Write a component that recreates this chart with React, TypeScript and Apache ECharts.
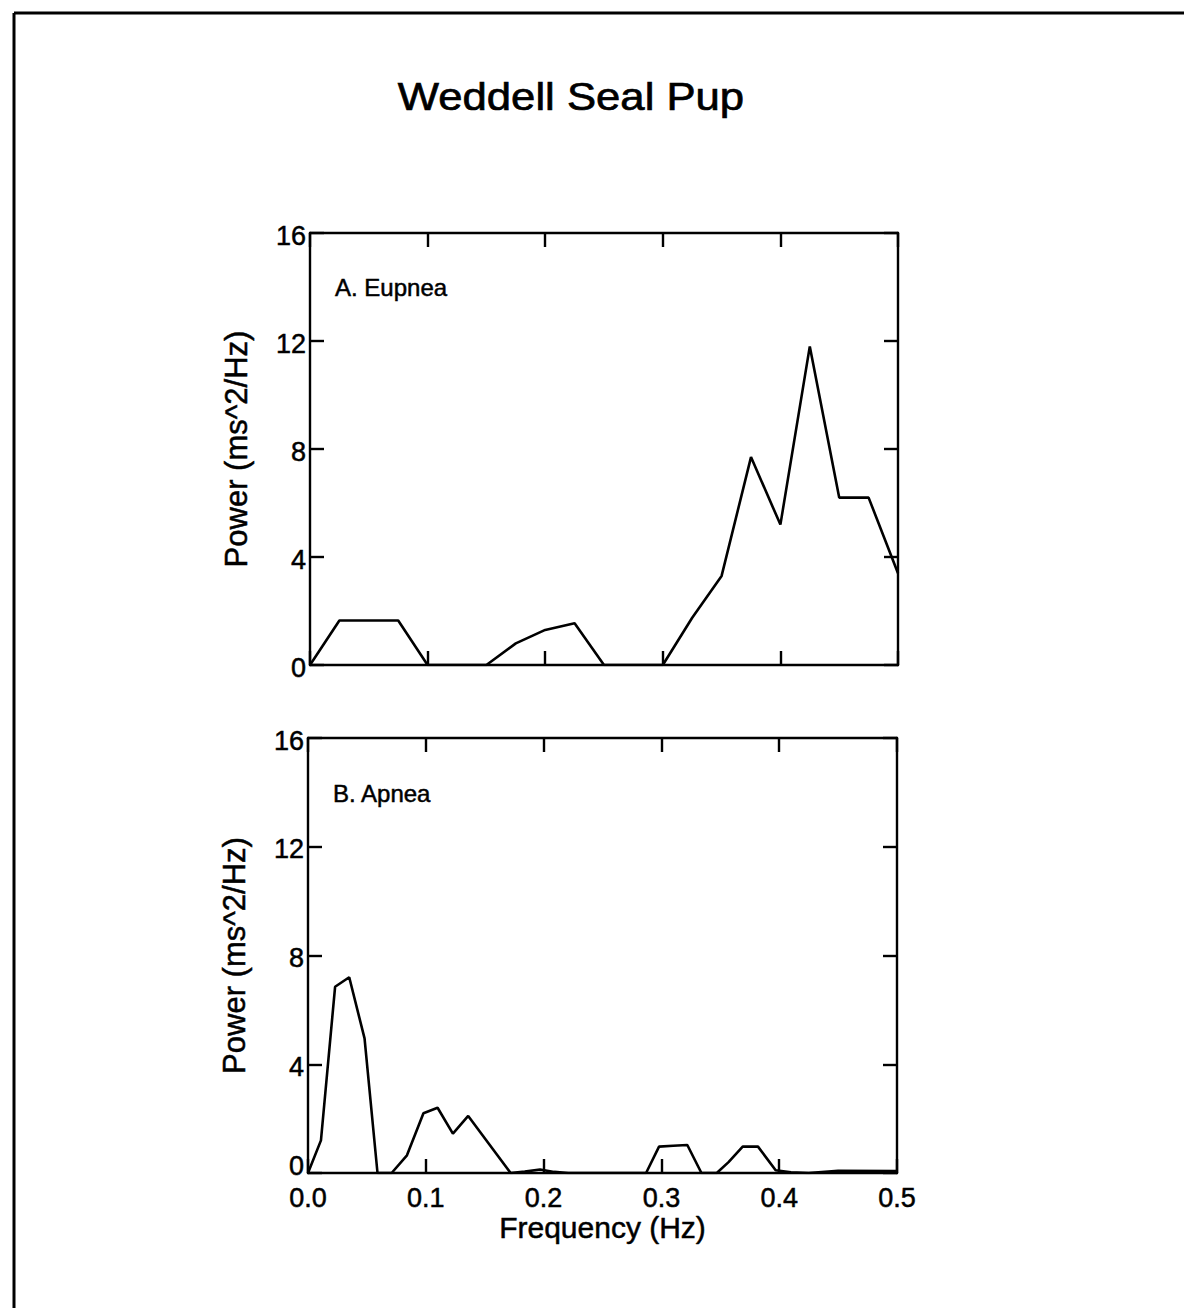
import React, { useEffect, useRef } from "react";
import * as echarts from "echarts";

// Power spectra of heart-rate variability, Weddell seal pup
const eupneaFreq = [0, 0.025, 0.05, 0.075, 0.1, 0.125, 0.15, 0.175, 0.2, 0.225, 0.25, 0.275, 0.3, 0.325, 0.35, 0.375, 0.4, 0.425, 0.45, 0.475, 0.5];
const eupneaPower = [0, 1.65, 1.65, 1.65, 0, 0, 0, 0.8, 1.3, 1.55, 0, 0, 0, 1.75, 3.3, 7.7, 5.2, 11.8, 6.2, 6.2, 3.4];

const apneaFreq = [0, 0.011, 0.023, 0.035, 0.048, 0.059, 0.071, 0.084, 0.098, 0.11, 0.123, 0.136, 0.148, 0.16, 0.172, 0.184, 0.197, 0.209, 0.221, 0.287, 0.298, 0.31, 0.322, 0.334, 0.347, 0.357, 0.369, 0.382, 0.397, 0.41, 0.425, 0.45, 0.5];
const apneaPower = [0, 1.2, 6.85, 7.2, 4.95, 0, 0, 0.65, 2.2, 2.4, 1.45, 2.1, 1.4, 0.7, 0, 0.05, 0.13, 0.04, 0, 0, 0.97, 1.0, 1.03, 0, 0, 0.4, 0.97, 0.97, 0.1, 0.03, 0, 0.08, 0.07];

const freqTicks = [0, 0.1, 0.2, 0.3, 0.4, 0.5];
const powerTicks = [0, 4, 8, 12, 16];

const FONT = "'Liberation Sans', Arial, Helvetica, sans-serif";
const INK = "#000";
// light outline to give the type a heavier, printed look
const heavy = { textBorderColor: INK, textBorderWidth: 0.5 };
const tickFont = { color: INK, fontSize: 27, fontFamily: FONT, ...heavy };

function pairs(xs: number[], ys: number[]) {
  return xs.map((x, i) => [x, ys[i]]);
}

function xAxes(gridIndex: number, showLabels: boolean) {
  const base = {
    type: "value",
    gridIndex,
    min: freqTicks[0],
    max: freqTicks[freqTicks.length - 1],
    interval: 0.1,
    splitLine: { show: false },
    axisLine: { show: true, onZero: false, lineStyle: { color: INK, width: 2.4 } },
    axisTick: { show: true, inside: true, length: 14, lineStyle: { color: INK, width: 2.4 } },
  };
  return [
    {
      ...base,
      position: "bottom",
      name: showLabels ? "Frequency (Hz)" : "",
      nameLocation: "middle",
      nameGap: 34,
      nameTextStyle: { color: INK, fontSize: 30, fontFamily: FONT, ...heavy },
      axisLabel: {
        show: showLabels,
        ...tickFont,
        lineHeight: 20,
        margin: 15,
        formatter: (v: number) => v.toFixed(1),
      },
    },
    { ...base, position: "top", axisLabel: { show: false } },
  ];
}

function yAxes(gridIndex: number) {
  const base = {
    type: "value",
    gridIndex,
    min: powerTicks[0],
    max: powerTicks[powerTicks.length - 1],
    interval: 4,
    splitLine: { show: false },
    axisLine: { show: true, onZero: false, lineStyle: { color: INK, width: 2.4 } },
    axisTick: { show: true, inside: true, length: 14, lineStyle: { color: INK, width: 2.4 } },
  };
  // the lower panel's zero sits a little higher so it clears the frequency labels
  const lowZero = gridIndex === 1;
  return [
    {
      ...base,
      position: "left",
      name: "Power (ms^2/Hz)",
      nameLocation: "middle",
      nameGap: 58,
      nameTextStyle: { color: INK, fontSize: 31, fontFamily: FONT, ...heavy },
      axisLabel: {
        show: true,
        ...tickFont,
        margin: 4,
        formatter: (v: number) => (lowZero && v === 0 ? `{z|${v}}` : `{n|${v}}`),
        rich: {
          n: { ...tickFont, padding: [5, 0, 0, 0] },
          z: { ...tickFont, padding: [0, 0, 14, 0] },
        },
      },
    },
    { ...base, position: "right", axisLabel: { show: false } },
  ];
}

export default function App() {
  const ref = useRef<HTMLDivElement>(null);

  useEffect(() => {
    document.body.style.margin = "0";
    if (!ref.current) return;
    const chart = echarts.init(ref.current, undefined, { renderer: "svg" });
    chart.setOption({
      animation: false,
      backgroundColor: "#fff",
      grid: [
        { left: 310, top: 233, width: 588, height: 432 },
        { left: 308, top: 738, width: 589, height: 435 },
      ],
      xAxis: [...xAxes(0, false), ...xAxes(1, true)],
      yAxis: [...yAxes(0), ...yAxes(1)],
      series: [
        {
          type: "line",
          xAxisIndex: 0,
          yAxisIndex: 0,
          data: pairs(eupneaFreq, eupneaPower),
          symbol: "none",
          lineStyle: { color: INK, width: 2.6 },
        },
        {
          type: "line",
          xAxisIndex: 2,
          yAxisIndex: 2,
          data: pairs(apneaFreq, apneaPower),
          symbol: "none",
          lineStyle: { color: INK, width: 2.6 },
        },
      ],
      graphic: [
        {
          type: "line",
          shape: { x1: 14, y1: 13, x2: 1184, y2: 13 },
          style: { stroke: INK, lineWidth: 3 },
        },
        {
          type: "line",
          shape: { x1: 14, y1: 13, x2: 14, y2: 1308 },
          style: { stroke: INK, lineWidth: 3 },
        },
        {
          type: "text",
          x: 571,
          y: 97,
          scaleX: 1.12,
          style: {
            text: "Weddell Seal Pup",
            fill: INK,
            font: `39px ${FONT}`,
            textAlign: "center",
            textVerticalAlign: "middle",
            stroke: INK,
            lineWidth: 0.7,
          },
        },
        {
          type: "text",
          x: 335,
          y: 287,
          style: {
            text: "A. Eupnea",
            fill: INK,
            font: `24px ${FONT}`,
            textAlign: "left",
            textVerticalAlign: "middle",
            stroke: INK,
            lineWidth: 0.5,
          },
        },
        {
          type: "text",
          x: 333,
          y: 793,
          style: {
            text: "B. Apnea",
            fill: INK,
            font: `24px ${FONT}`,
            textAlign: "left",
            textVerticalAlign: "middle",
            stroke: INK,
            lineWidth: 0.5,
          },
        },
      ],
    });
    return () => chart.dispose();
  }, []);

  return <div ref={ref} style={{ width: 1184, height: 1308 }} />;
}
